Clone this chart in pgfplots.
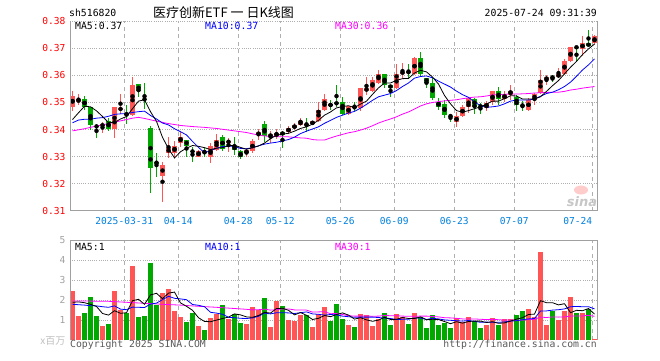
\documentclass[border=0pt]{standalone}
\usepackage{fontspec}
\setmainfont{DejaVu Sans}
\setmonofont{DejaVu Sans Mono}
\newfontfamily\cjk{Noto Sans CJK SC}
\usepackage{pgfplots}
\usepackage{pgfplotstable}
\pgfplotsset{compat=1.18}
\definecolor{cred}{RGB}{255,85,85}
\definecolor{cgreen}{RGB}{0,168,0}
\definecolor{dateblue}{RGB}{0,128,224}
\definecolor{gridgray}{RGB}{175,175,175}
\definecolor{framegray}{RGB}{160,160,160}
\definecolor{mablue}{RGB}{0,0,255}
\definecolor{mamag}{RGB}{255,0,255}

% i O H L C V  (up candles: close >= open)
\pgfplotstableread{
i O H L C V
0 0.3484 0.3542 0.3469 0.3523 2.47
1 0.3502 0.3531 0.3490 0.3512 1.22
5 0.3412 0.3426 0.3389 0.3420 0.72
7 0.3402 0.3485 0.3369 0.3484 2.47
8 0.3472 0.3532 0.3459 0.3480 1.50
10 0.3453 0.3595 0.3450 0.3564 3.72
15 0.3229 0.3281 0.3133 0.3268 2.37
16 0.3312 0.3373 0.3296 0.3333 2.57
17 0.3312 0.3358 0.3298 0.3339 1.47
18 0.3349 0.3392 0.3336 0.3373 1.17
21 0.3299 0.3325 0.3298 0.3320 0.72
23 0.3299 0.3351 0.3277 0.3339 1.12
24 0.3324 0.3383 0.3320 0.3361 1.32
26 0.3352 0.3368 0.3317 0.3358 1.07
29 0.3312 0.3333 0.3297 0.3324 0.82
30 0.3320 0.3364 0.3314 0.3358 1.67
31 0.3379 0.3402 0.3363 0.3391 1.52
33 0.3374 0.3396 0.3352 0.3382 0.67
34 0.3376 0.3402 0.3364 0.3386 1.97
36 0.3392 0.3412 0.3385 0.3404 1.02
37 0.3404 0.3425 0.3397 0.3417 0.97
38 0.3417 0.3443 0.3414 0.3431 1.27
40 0.3419 0.3433 0.3416 0.3431 0.67
41 0.3433 0.3502 0.3429 0.3472 1.32
42 0.3472 0.3531 0.3468 0.3512 1.67
46 0.3459 0.3488 0.3453 0.3486 0.77
48 0.3478 0.3553 0.3469 0.3552 1.32
49 0.3543 0.3595 0.3527 0.3552 1.27
50 0.3543 0.3595 0.3539 0.3583 0.72
51 0.3573 0.3620 0.3570 0.3607 1.07
54 0.3552 0.3644 0.3548 0.3604 1.32
55 0.3607 0.3647 0.3585 0.3613 1.17
57 0.3605 0.3668 0.3600 0.3664 1.37
64 0.3428 0.3465 0.3410 0.3449 1.12
65 0.3451 0.3490 0.3447 0.3484 0.92
66 0.3483 0.3522 0.3460 0.3516 1.17
69 0.3481 0.3504 0.3469 0.3498 0.77
70 0.3501 0.3544 0.3491 0.3541 1.12
72 0.3514 0.3541 0.3501 0.3531 1.07
73 0.3528 0.3565 0.3510 0.3543 1.07
76 0.3473 0.3516 0.3467 0.3510 1.57
77 0.3510 0.3535 0.3491 0.3531 1.17
78 0.3535 0.3621 0.3532 0.3584 4.42
79 0.3584 0.3602 0.3565 0.3593 0.77
81 0.3594 0.3627 0.3590 0.3605 1.02
82 0.3605 0.3662 0.3602 0.3654 1.47
83 0.3654 0.3705 0.3649 0.3705 2.17
85 0.3698 0.3746 0.3672 0.3719 1.37
87 0.3719 0.3748 0.3713 0.3747 0.07
}\upT

% down candles: close < open
\pgfplotstableread{
i O H L C V
2 0.3512 0.3523 0.3474 0.3484 1.37
3 0.3483 0.3485 0.3398 0.3416 2.17
4 0.3413 0.3420 0.3370 0.3410 1.22
6 0.3431 0.3441 0.3395 0.3401 0.82
9 0.3458 0.3490 0.3421 0.3455 1.37
11 0.3567 0.3570 0.3521 0.3542 1.17
12 0.3513 0.3571 0.3475 0.3510 1.22
13 0.3404 0.3414 0.3165 0.3258 3.87
14 0.3279 0.3312 0.3225 0.3276 1.77
19 0.3361 0.3363 0.3297 0.3340 0.92
20 0.3320 0.3336 0.3279 0.3318 1.37
22 0.3317 0.3333 0.3300 0.3315 0.52
25 0.3373 0.3381 0.3319 0.3328 1.77
27 0.3340 0.3371 0.3306 0.3324 1.32
28 0.3320 0.3323 0.3290 0.3299 0.87
32 0.3420 0.3431 0.3355 0.3377 2.12
35 0.3391 0.3393 0.3330 0.3380 1.72
39 0.3420 0.3441 0.3392 0.3418 1.27
43 0.3492 0.3509 0.3472 0.3490 0.97
44 0.3500 0.3563 0.3484 0.3494 1.82
45 0.3500 0.3521 0.3453 0.3459 1.07
47 0.3486 0.3500 0.3469 0.3478 0.67
52 0.3604 0.3605 0.3552 0.3564 1.37
53 0.3564 0.3565 0.3521 0.3554 0.77
56 0.3613 0.3644 0.3585 0.3611 0.82
58 0.3664 0.3688 0.3597 0.3605 1.17
59 0.3591 0.3592 0.3554 0.3573 0.62
60 0.3573 0.3595 0.3509 0.3515 1.27
61 0.3502 0.3515 0.3472 0.3484 0.77
62 0.3493 0.3509 0.3443 0.3453 0.87
63 0.3451 0.3459 0.3428 0.3449 0.62
67 0.3514 0.3515 0.3458 0.3485 0.97
68 0.3487 0.3498 0.3458 0.3485 0.62
71 0.3543 0.3559 0.3491 0.3514 0.77
74 0.3522 0.3528 0.3469 0.3491 1.27
75 0.3490 0.3504 0.3469 0.3488 1.47
80 0.3594 0.3602 0.3575 0.3592 1.47
84 0.3705 0.3705 0.3648 0.3703 1.37
86 0.3719 0.3769 0.3704 0.3708 1.57
}\dnT

\pgfplotsset{
  kbase/.style={
    scale only axis, width=527bp,
    xmin=-0.42, xmax=87.42,
    axis line style={draw=none},
    major tick length=0pt,
    xtick={8.63,17.63,27.63,34.63,44.63,53.63,63.63,73.63,86.63},
    xmajorgrids, ymajorgrids,
    major x grid style={gridgray, dash pattern=on 4bp off 3.5bp, line width=0.8bp},
    major y grid style={gridgray, dash pattern=on 1bp off 1.2bp, line width=0.8bp},
    /pgf/number format/assume math mode=true,
    ticklabel style={font=\ttfamily\fontsize{9.6bp}{10bp}\selectfont, inner sep=0pt},
    yticklabel style={anchor=east, xshift=-4.3bp},
  },
  candle/.style={only marks, mark=none, forget plot,
    error bars/.cd, y dir=both, y explicit, error mark=none,
    error bar style={#1, line width=4.6bp}},
  wick/.style={only marks, mark=none, forget plot,
    error bars/.cd, y dir=both, y explicit, error mark=none,
    error bar style={#1, line width=1bp}},
}

\begin{document}
\begin{tikzpicture}[x=1bp,y=1bp]
\useasboundingbox (0,0) rectangle (660,360);

% ---------------- price panel ----------------
\begin{axis}[kbase,
  at={(70bp,149.3bp)}, anchor=south west, height=189.4bp,
  ymin=0.31, ymax=0.38,
  ytick={0.31,0.32,0.33,0.34,0.35,0.36,0.37,0.38},
  yticklabel={\pgfmathprintnumber[fixed,fixed zerofill,precision=2]{\tick}},
  yticklabel style={text=red},
  xticklabels={2025-03-31,04-14,04-28,05-12,05-26,06-09,06-23,07-07,\llap{07-24}},
  xticklabel style={anchor=base, yshift=-13.8bp, text=dateblue},
  after end axis/.code={
    \draw[framegray, line width=1bp] (rel axis cs:0,1) -- (rel axis cs:0,0) -- (rel axis cs:1,0) -- (rel axis cs:1,1);
  },
]
% wicks
\addplot[wick=cred] table[x=i, y expr={(\thisrow{H}+\thisrow{L})/2}, y error expr={(\thisrow{H}-\thisrow{L})/2}] {\upT};
\addplot[wick=cgreen] table[x=i, y expr={(\thisrow{H}+\thisrow{L})/2}, y error expr={(\thisrow{H}-\thisrow{L})/2}] {\dnT};
% bodies
\addplot[candle=cred] table[x=i, y expr={(\thisrow{O}+\thisrow{C})/2}, y error expr={max(abs(\thisrow{C}-\thisrow{O})/2,0.00018)}] {\upT};
\addplot[candle=cgreen] table[x=i, y expr={(\thisrow{O}+\thisrow{C})/2}, y error expr={max(abs(\thisrow{C}-\thisrow{O})/2,0.00018)}] {\dnT};

% MA30
\addplot[mamag, line width=0.8bp, mark=none] coordinates {
(0,0.3395)(2,0.3403)(4,0.3413)(6,0.3422)(8,0.3432)(10,0.3442)(11,0.3445)(12,0.3441)(14,0.3431)(16,0.3422)(18,0.3415)(20,0.3411)(22,0.3408)(24,0.3404)(26,0.3398)(28,0.3392)
(29,0.3389)(30,0.3384)(31,0.3380)(32,0.3376)(33,0.3375)(34,0.3374)(35,0.3373)(36,0.3373)(37,0.3371)(38,0.3369)(39,0.3368)(40,0.3363)(41,0.3361)(42,0.3361)(43,0.3369)(44,0.3376)(45,0.3382)(46,0.3388)(47,0.3392)(48,0.3398)(49,0.3405)(50,0.3414)(51,0.3424)(52,0.3432)(53,0.3439)(54,0.3447)(55,0.3457)(56,0.3465)(57,0.3476)(58,0.3487)(59,0.3495)(60,0.3500)(61,0.3503)(62,0.3506)(63,0.3508)(64,0.3510)(65,0.3514)(66,0.3517)(67,0.3520)(68,0.3521)(69,0.3524)(70,0.3528)(71,0.3529)(72,0.3530)(73,0.3532)(74,0.3531)(75,0.3532)(76,0.3533)(77,0.3535)(78,0.3536)(79,0.3537)(80,0.3538)(81,0.3538)(82,0.3541)(83,0.3546)(84,0.3549)(85,0.3553)(86,0.3556)(87,0.3559)};
% MA10
\addplot[mablue, line width=0.8bp, mark=none] coordinates {
(0,0.3425)(1,0.3435)(2,0.3438)(3,0.3438)(4,0.3442)(5,0.3444)(6,0.3449)(7,0.3456)(8,0.3458)(9,0.3459)(10,0.3463)(11,0.3466)(12,0.3468)(13,0.3452)(14,0.3439)(15,0.3424)(16,0.3417)(17,0.3403)(18,0.3392)(19,0.3380)(20,0.3356)(21,0.3334)(22,0.3314)(23,0.3322)(24,0.3331)(25,0.3337)(26,0.3339)(27,0.3338)(28,0.3330)(29,0.3329)(30,0.3333)(31,0.3340)(32,0.3346)(33,0.3350)(34,0.3353)(35,0.3358)(36,0.3363)(37,0.3372)(38,0.3385)(39,0.3394)(40,0.3402)(41,0.3410)(42,0.3423)(43,0.3434)(44,0.3445)(45,0.3453)(46,0.3461)(47,0.3467)(48,0.3479)(49,0.3493)(50,0.3508)(51,0.3521)(52,0.3527)(53,0.3533)(54,0.3544)(55,0.3559)(56,0.3572)(57,0.3590)(58,0.3596)(59,0.3598)(60,0.3591)(61,0.3579)(62,0.3568)(63,0.3557)(64,0.3542)(65,0.3529)(66,0.3519)(67,0.3501)(68,0.3489)(69,0.3482)(70,0.3484)(71,0.3487)(72,0.3495)(73,0.3505)(74,0.3509)(75,0.3509)(76,0.3509)(77,0.3513)(78,0.3523)(79,0.3533)(80,0.3538)(81,0.3547)(82,0.3559)(83,0.3575)(84,0.3597)(85,0.3620)(86,0.3639)(87,0.3661)};
% MA5
\addplot[black, line width=0.8bp, mark=none] coordinates {
(0,0.3437)(1,0.3462)(2,0.3486)(3,0.3484)(4,0.3469)(5,0.3448)(6,0.3426)(7,0.3426)(8,0.3439)(9,0.3448)(10,0.3477)(11,0.3505)(12,0.3510)(13,0.3466)(14,0.3430)(15,0.3371)(16,0.3329)(17,0.3295)(18,0.3318)(19,0.3331)(20,0.3341)(21,0.3338)(22,0.3333)(23,0.3326)(24,0.3331)(25,0.3333)(26,0.3340)(27,0.3342)(28,0.3334)(29,0.3327)(30,0.3333)(31,0.3339)(32,0.3350)(33,0.3366)(34,0.3379)(35,0.3383)(36,0.3386)(37,0.3394)(38,0.3404)(39,0.3410)(40,0.3420)(41,0.3434)(42,0.3453)(43,0.3465)(44,0.3480)(45,0.3485)(46,0.3488)(47,0.3481)(48,0.3494)(49,0.3505)(50,0.3530)(51,0.3554)(52,0.3572)(53,0.3572)(54,0.3582)(55,0.3588)(56,0.3589)(57,0.3609)(58,0.3619)(59,0.3613)(60,0.3594)(61,0.3568)(62,0.3526)(63,0.3495)(64,0.3470)(65,0.3464)(66,0.3470)(67,0.3477)(68,0.3484)(69,0.3494)(70,0.3505)(71,0.3505)(72,0.3514)(73,0.3525)(74,0.3524)(75,0.3513)(76,0.3513)(77,0.3513)(78,0.3521)(79,0.3541)(80,0.3562)(81,0.3581)(82,0.3606)(83,0.3630)(84,0.3652)(85,0.3677)(86,0.3698)(87,0.3716)};
\end{axis}

% ---------------- volume panel ----------------
\begin{axis}[kbase,
  at={(70bp,19.7bp)}, anchor=south west, height=100bp,
  ymin=0, ymax=5,
  ytick={1,2,3,4,5},
  yticklabel style={text=framegray},
  xticklabels={},
  after end axis/.code={
    \draw[framegray, line width=1bp] (rel axis cs:0,0) -- (rel axis cs:0,1) -- (rel axis cs:1,1) -- (rel axis cs:1,0);
  },
]
\addplot[ycomb, cred, line width=4.6bp, mark=none, forget plot] table[x=i, y=V] {\upT};
\addplot[ycomb, cgreen, line width=4.6bp, mark=none, forget plot] table[x=i, y=V] {\dnT};
% vol MA30
\addplot[mamag, line width=0.8bp, mark=none] coordinates {
(0,1.97)(3,1.96)(6,1.95)(9,1.90)(12,1.85)(15,1.80)(18,1.76)(21,1.70)(24,1.65)(27,1.59)(29,1.55)(30,1.52)(31,1.53)(32,1.56)(33,1.51)(34,1.53)(35,1.57)(36,1.57)(37,1.52)(38,1.52)(39,1.51)(40,1.41)(41,1.42)(42,1.43)(43,1.33)(44,1.34)(45,1.29)(46,1.23)(47,1.21)(48,1.21)(49,1.22)(50,1.20)(51,1.21)(52,1.24)(53,1.23)(54,1.23)(55,1.21)(56,1.20)(57,1.20)(58,1.21)(59,1.21)(60,1.19)(61,1.17)(62,1.13)(63,1.12)(64,1.10)(65,1.07)(66,1.07)(67,1.07)(68,1.05)(69,1.04)(70,1.05)(71,1.03)(72,1.01)(73,1.02)(74,1.00)(75,1.01)(76,1.04)(77,1.05)(78,1.16)(79,1.14)(80,1.17)(81,1.16)(82,1.17)(83,1.21)(84,1.22)(85,1.22)(86,1.25)(87,1.20)};
% vol MA10
\addplot[mablue, line width=0.8bp, mark=none] coordinates {
(0,1.80)(1,1.78)(2,1.76)(3,1.73)(4,1.72)(5,1.68)(6,1.65)(7,1.72)(8,1.56)(9,1.53)(10,1.66)(11,1.65)(12,1.64)(13,1.81)(14,1.86)(15,2.03)(16,2.20)(17,2.10)(18,2.07)(19,2.03)(20,1.79)(21,1.75)(22,1.68)(23,1.40)(24,1.36)(25,1.30)(26,1.15)(27,1.13)(28,1.10)(29,1.09)(30,1.12)(31,1.20)(32,1.36)(33,1.32)(34,1.38)(35,1.38)(36,1.37)(37,1.34)(38,1.38)(39,1.42)(40,1.32)(41,1.30)(42,1.26)(43,1.29)(44,1.27)(45,1.21)(46,1.18)(47,1.15)(48,1.16)(49,1.16)(50,1.16)(51,1.14)(52,1.11)(53,1.09)(54,1.04)(55,1.05)(56,1.05)(57,1.12)(58,1.11)(59,1.04)(60,1.10)(61,1.07)(62,1.02)(63,1.00)(64,0.98)(65,0.96)(66,0.99)(67,0.95)(68,0.90)(69,0.91)(70,0.90)(71,0.90)(72,0.92)(73,0.96)(74,0.98)(75,1.03)(76,1.07)(77,1.09)(78,1.47)(79,1.47)(80,1.51)(81,1.53)(82,1.57)(83,1.68)(84,1.69)(85,1.68)(86,1.68)(87,1.57)};
% vol MA5
\addplot[black, line width=0.8bp, mark=none] coordinates {
(0,1.90)(1,1.92)(2,1.88)(3,1.80)(4,1.69)(5,1.34)(6,1.26)(7,1.48)(8,1.35)(9,1.38)(10,1.98)(11,2.05)(12,1.80)(13,2.27)(14,2.35)(15,2.08)(16,2.36)(17,2.41)(18,1.87)(19,1.70)(20,1.50)(21,1.13)(22,0.94)(23,0.93)(24,1.01)(25,1.09)(26,1.16)(27,1.32)(28,1.27)(29,1.17)(30,1.15)(31,1.24)(32,1.40)(33,1.36)(34,1.59)(35,1.60)(36,1.50)(37,1.27)(38,1.39)(39,1.25)(40,1.04)(41,1.10)(42,1.24)(43,1.18)(44,1.29)(45,1.37)(46,1.26)(47,1.06)(48,1.13)(49,1.02)(50,0.95)(51,1.01)(52,1.15)(53,1.04)(54,1.05)(55,1.14)(56,1.09)(57,1.09)(58,1.17)(59,1.03)(60,1.05)(61,1.04)(62,0.94)(63,0.83)(64,0.93)(65,0.86)(66,0.94)(67,0.96)(68,0.96)(69,0.89)(70,0.93)(71,0.85)(72,0.87)(73,0.96)(74,1.06)(75,1.13)(76,1.29)(77,1.31)(78,1.98)(79,1.88)(80,1.88)(81,1.77)(82,1.83)(83,1.38)(84,1.50)(85,1.48)(86,1.59)(87,1.31)};
\end{axis}

% ---------------- texts ----------------
\def\mono{\ttfamily\fontsize{9.8bp}{10bp}\selectfont}
\node[anchor=base west, inner sep=0pt, font=\mono] at (69,343.3) {sh516820};
\node[anchor=center, inner sep=0pt, font=\cjk\fontsize{13bp}{13bp}\selectfont] at (223.5,347.5) {医疗创新ETF 一 日K线图};
\node[anchor=base east, inner sep=0pt, font=\mono] at (597,344) {2025-07-24 09:31:39};
\node[anchor=base west, inner sep=0pt, font=\mono] at (75,330.3) {MA5:0.37};
\node[anchor=base west, inner sep=0pt, font=\mono, text=mablue] at (205,330.3) {MA10:0.37};
\node[anchor=base west, inner sep=0pt, font=\mono, text=mamag] at (335,330.3) {MA30:0.36};
\node[anchor=base west, inner sep=0pt, font=\mono] at (75,110) {MA5:1};
\node[anchor=base west, inner sep=0pt, font=\mono, text=mablue] at (205,110) {MA10:1};
\node[anchor=base west, inner sep=0pt, font=\mono, text=mamag] at (335,110) {MA30:1};
\node[anchor=east, inner sep=0pt, text=black!25, font=\cjk\fontsize{10bp}{10bp}\selectfont] at (65.5,19.5) {x百万};
\node[anchor=base west, inner sep=0pt, font=\mono, text=black!65] at (70,12.7) {Copyright 2025 SINA.COM};
\node[anchor=base east, inner sep=0pt, font=\mono, text=black!65] at (597,12.7) {http://finance.sina.com.cn};
% sina watermark
\fill[red!20] (581,170) ellipse (7 and 4.5);
\node[anchor=center, inner sep=0pt, text=black!22, font=\bfseries\itshape\fontsize{13bp}{13bp}\selectfont] at (582,158.5) {sina};
\end{tikzpicture}
\end{document}
